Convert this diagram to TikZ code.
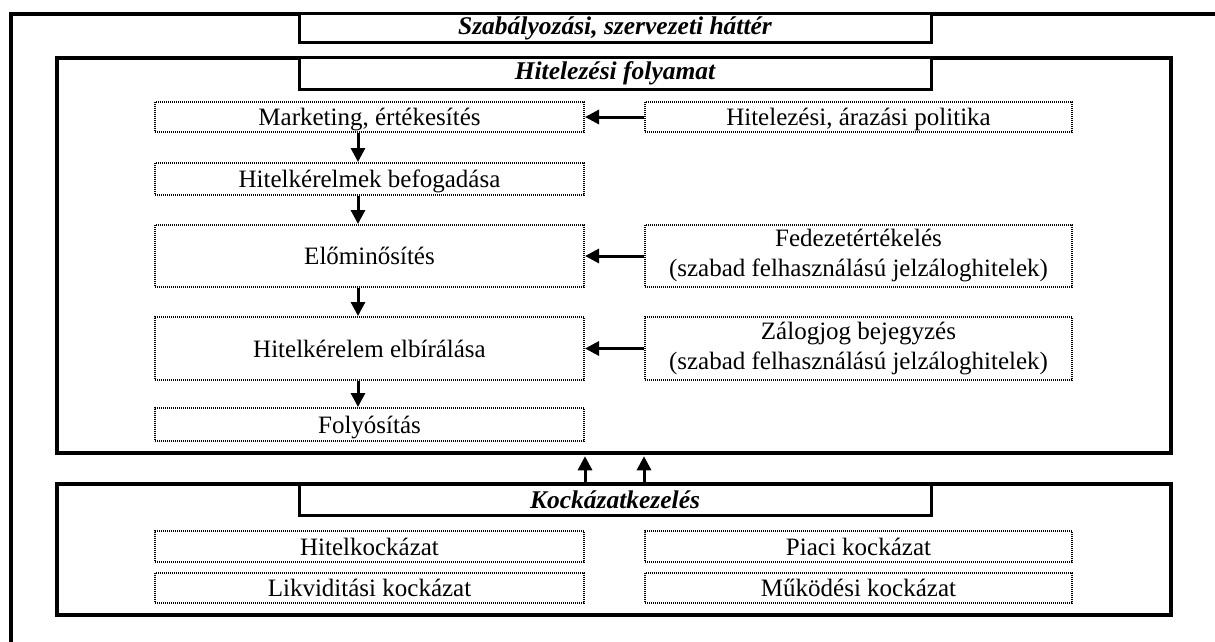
\documentclass[tikz,border=0pt]{standalone}
\usepackage{fontspec}
\setmainfont{Liberation Serif}
\usetikzlibrary{arrows.meta}
\begin{document}
\begin{tikzpicture}[x=1pt,y=-1pt,
  frame/.style={draw, line width=3.5pt, inner sep=0pt},
  titlebox/.style={draw, line width=3pt, fill=white, inner sep=0pt, minimum width=632pt, font=\fontsize{25.5}{30}\selectfont\bfseries\itshape},
  dotbox/.style={draw, line width=2pt, dash pattern=on 1pt off 1pt, inner sep=0pt, align=center, font=\fontsize{25}{30}\selectfont},
  oneline/.style={text height=21pt, text depth=4pt},
  arr/.style={line width=3pt, -{Triangle[length=14pt,width=14pt]}}]
\useasboundingbox (0,0) rectangle (1215,642);
\clip (0,0) rectangle (1215,642);
% outer frame
\draw[line width=3.5pt] (11,14) rectangle (1240,680);
\node[frame, minimum width=1114pt, minimum height=395pt] (hf) at (614,255.5) {};
\node[frame, minimum width=1114pt, minimum height=131pt] (kf) at (614,549.5) {};
% titles
\node[titlebox, minimum height=29pt] (sz) at (615,28.5) {Szabályozási, szervezeti háttér};
\node[titlebox, minimum height=31pt] (hft) at (615,73.5) {Hitelezési folyamat};
\node[titlebox, minimum height=31pt] (kt) at (615,499.5) {Kockázatkezelés};
% left column
\node[dotbox, oneline, minimum width=429pt, minimum height=30pt] (mk) at (369.5,117) {Marketing, értékesítés};
\node[dotbox, oneline, minimum width=429pt, minimum height=32pt] (hb) at (369.5,179) {Hitelkérelmek befogadása};
\node[dotbox, oneline, minimum width=429pt, minimum height=62pt] (el) at (369.5,256) {Előminősítés};
\node[dotbox, oneline, minimum width=429pt, minimum height=63pt] (he) at (369.5,348.5) {Hitelkérelem elbírálása};
\node[dotbox, oneline, minimum width=429pt, minimum height=33pt] (fo) at (369.5,424.5) {Folyósítás};
% right column
\node[dotbox, oneline, minimum width=427pt, minimum height=30pt] (hp) at (858.5,117) {Hitelezési, árazási politika};
\node[dotbox, minimum width=427pt, minimum height=62pt] (fe) at (858.5,256) {Fedezetértékelés\\(szabad felhasználású jelzáloghitelek)};
\node[dotbox, minimum width=427pt, minimum height=63pt] (za) at (858.5,348.5) {Zálogjog bejegyzés\\(szabad felhasználású jelzáloghitelek)};
% risk boxes
\node[dotbox, oneline, minimum width=429pt, minimum height=31pt] (hk) at (369.5,546.5) {Hitelkockázat};
\node[dotbox, oneline, minimum width=429pt, minimum height=30pt] (li) at (369.5,588) {Likviditási kockázat};
\node[dotbox, oneline, minimum width=427pt, minimum height=31pt] (pk) at (858.5,546.5) {Piaci kockázat};
\node[dotbox, oneline, minimum width=427pt, minimum height=30pt] (mu) at (858.5,588) {Működési kockázat};
% vertical arrows
\coordinate (ax) at (358,0);
\draw[arr] (mk.south -| ax) -- (hb.north -| ax);
\draw[arr] (hb.south -| ax) -- (el.north -| ax);
\draw[arr] (el.south -| ax) -- (he.north -| ax);
\draw[arr] (he.south -| ax) -- (fo.north -| ax);
% horizontal arrows
\draw[arr] (hp.west) -- (mk.east);
\draw[arr] (fe.west) -- (el.east);
\draw[arr] (za.west) -- (he.east);
% risk to process arrows
\draw[arr, shorten >=1.5pt] (kf.north -| mk.east) -- (hf.south -| mk.east);
\draw[arr, shorten >=1.5pt] (kf.north -| hp.west) -- (hf.south -| hp.west);
\end{tikzpicture}
\end{document}
